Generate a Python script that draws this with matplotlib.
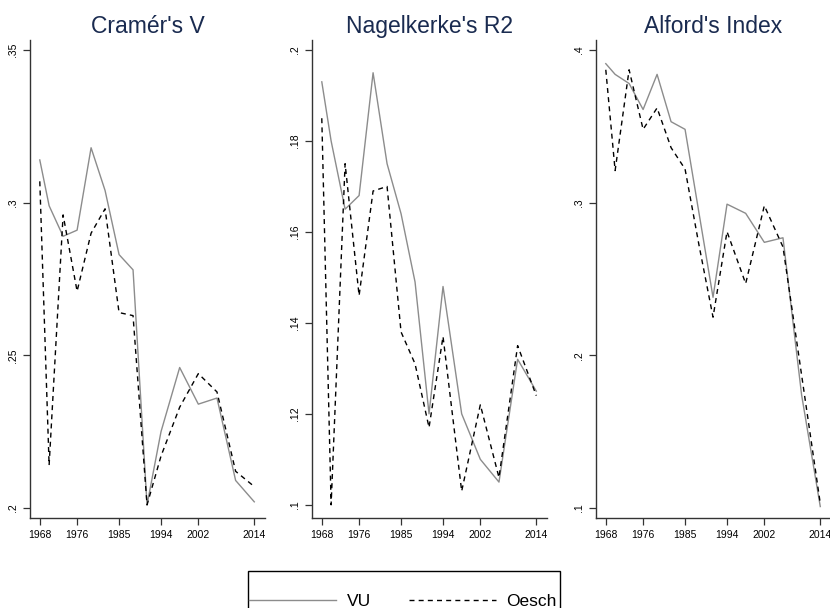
import matplotlib
matplotlib.use('Agg')
import matplotlib.pyplot as plt
from matplotlib.lines import Line2D
from matplotlib.patches import Rectangle

plt.rcParams['font.family'] = ['Liberation Sans', 'DejaVu Sans']

# election years (Sweden)
years = [1968, 1970, 1973, 1976, 1979, 1982, 1985, 1988, 1991, 1994, 1998, 2002, 2006, 2010, 2014]
year_ticks = [1968, 1976, 1985, 1994, 2002, 2014]

cramer_vu = [0.314, 0.299, 0.289, 0.291, 0.318, 0.304, 0.283, 0.278, 0.201, 0.225, 0.246, 0.234, 0.236, 0.209, 0.202]
cramer_oesch = [0.307, 0.214, 0.296, 0.271, 0.290, 0.298, 0.264, 0.263, 0.201, 0.217, 0.233, 0.244, 0.238, 0.212, 0.207]

nagel_vu = [0.193, 0.180, 0.165, 0.168, 0.195, 0.175, 0.164, 0.149, 0.120, 0.148, 0.120, 0.110, 0.105, 0.132, 0.125]
nagel_oesch = [0.185, 0.100, 0.175, 0.146, 0.169, 0.170, 0.138, 0.131, 0.117, 0.137, 0.103, 0.122, 0.106, 0.135, 0.124]

alford_vu = [0.391, 0.384, 0.378, 0.361, 0.384, 0.353, 0.348, 0.293, 0.238, 0.299, 0.293, 0.274, 0.277, 0.174, 0.101]
alford_oesch = [0.387, 0.321, 0.387, 0.348, 0.362, 0.336, 0.322, 0.272, 0.225, 0.281, 0.247, 0.298, 0.271, 0.187, 0.103]

titles = ["Cramér's V", "Nagelkerke's R2", "Alford's Index"]
yticks = [[0.2, 0.25, 0.3, 0.35],
          [0.1, 0.12, 0.14, 0.16, 0.18, 0.2],
          [0.1, 0.2, 0.3, 0.4]]
ylims = [(0.1967, 0.3533), (0.0971, 0.2022), (0.0935, 0.4065)]
series = [(cramer_vu, cramer_oesch), (nagel_vu, nagel_oesch), (alford_vu, alford_oesch)]

W, H = 830, 608
fig = plt.figure(figsize=(W / 100, H / 100), dpi=100)

# axes left edges in pixels, all 235px wide, y from 40 to 518
lefts = [30, 312, 596]

title_color = '#1a2b50'
vu_color = '#8c8c8c'
axis_color = '#333333'
dash = (0, (3.6, 3.0))

for i in range(3):
    ax = fig.add_axes([lefts[i] / W, (H - 518) / H, 235 / W, 478 / H])
    vu, oe = series[i]
    ax.plot(years, vu, color=vu_color, lw=1.0)
    ax.plot(years, oe, color='black', lw=1.0, linestyle=dash)
    ax.set_xlim(1965.9, 2016.3)
    ax.set_ylim(*ylims[i])
    ax.set_xticks(year_ticks)
    ax.set_xticklabels([str(y) for y in year_ticks])
    ax.set_yticks(yticks[i])
    ax.set_yticklabels([('%g' % v).lstrip('0') for v in yticks[i]],
                       rotation=90, va='center')
    for s in ['top', 'right']:
        ax.spines[s].set_visible(False)
    for s in ['left', 'bottom']:
        ax.spines[s].set_color(axis_color)
        ax.spines[s].set_linewidth(1.0)
    ax.tick_params(axis='both', direction='out', length=5, width=0.9,
                   color=axis_color, labelsize=7.5, labelcolor='black')
    ax.tick_params(axis='x', pad=4)
    ax.tick_params(axis='y', pad=3.5)
    ax.set_title(titles[i], fontsize=16.5, color=title_color, pad=5)

# legend box (cropped at the bottom in the reference)
fig.patches.append(Rectangle((248 / W, (H - 632) / H), 312 / W, 61 / H,
                             transform=fig.transFigure, fill=False,
                             edgecolor='black', lw=1.0))
handles = [Line2D([], [], color=vu_color, lw=1.0),
           Line2D([], [], color='black', lw=1.0, linestyle=dash)]
fig.legend(handles, ['VU', 'Oesch'], loc='center', ncol=2,
           bbox_to_anchor=(403 / W, (H - 601) / H), frameon=False,
           fontsize=12.5, handlelength=5.0, handletextpad=0.6,
           columnspacing=2.2, borderpad=0)

fig.savefig('out.png', dpi=100, facecolor='white')
